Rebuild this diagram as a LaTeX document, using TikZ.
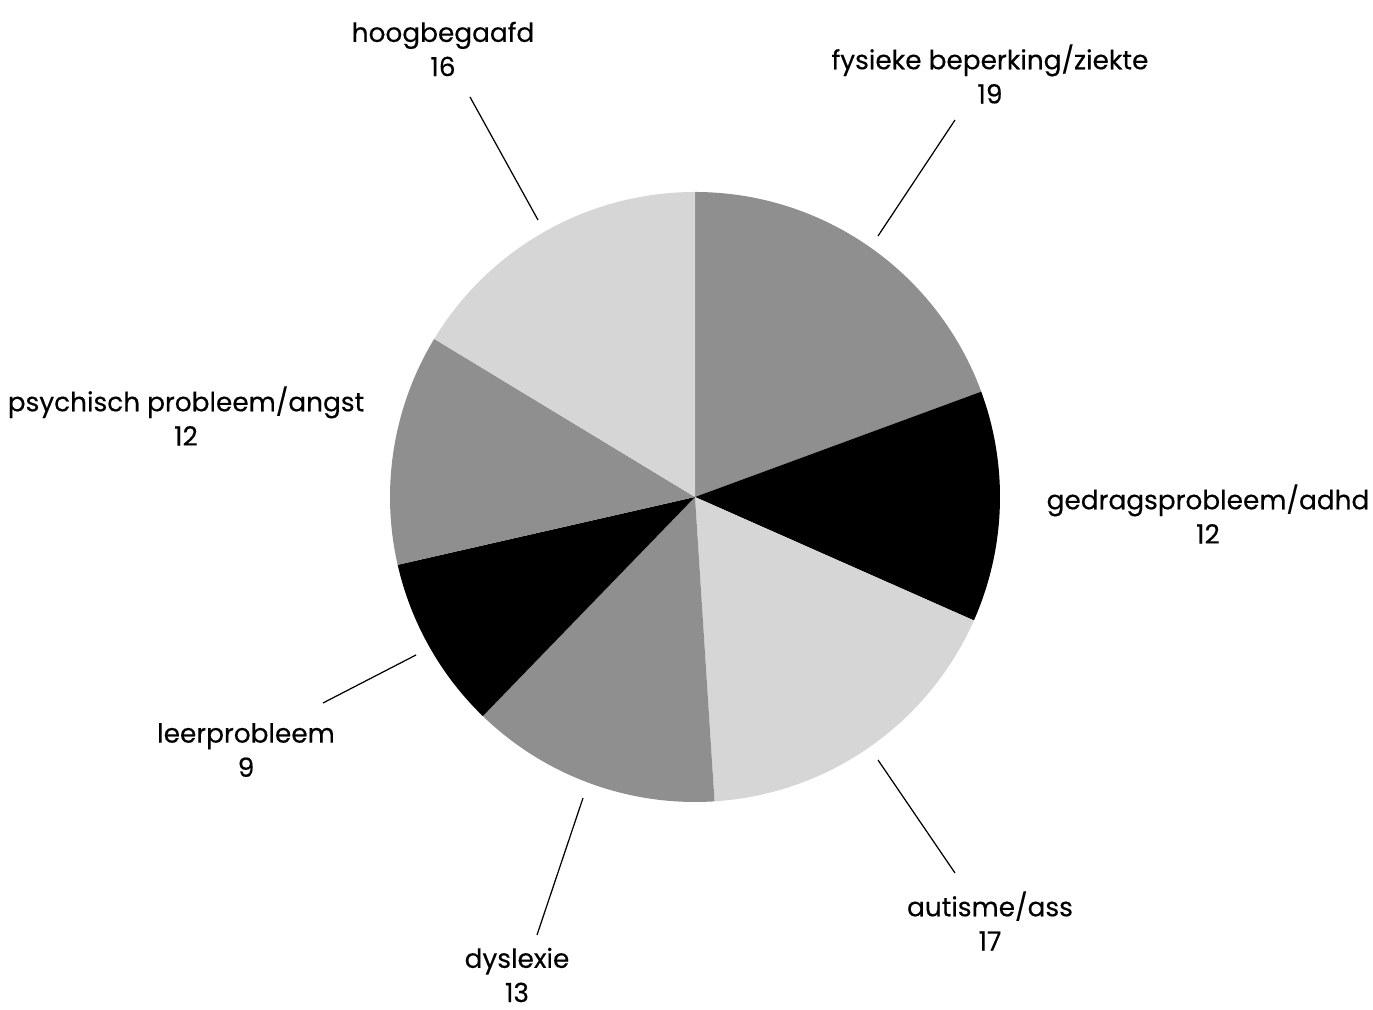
\documentclass[tikz,border=0pt]{standalone}
\usepackage{fontspec}
\setmainfont{Poppins}
\newfontfamily\labelfont{Poppins}[FakeBold=0.3]
\usetikzlibrary{positioning}
\definecolor{piegray}{RGB}{143,143,143}
\definecolor{pielight}{RGB}{214,214,214}
\tikzstyle{slicelabel}=[align=center,inner sep=0pt,font=\labelfont\fontsize{15}{19.5}\selectfont]
\tikzstyle{leader}=[draw,line width=0.7pt]
\begin{document}
\begin{tikzpicture}[x=0.02cm,y=0.02cm]
    \useasboundingbox (0,0) rectangle (1373,1010);
    % centre of the pie
    \coordinate (c) at (695,513);

    % slices, clockwise from the top: 19,12,17,13,9,12,16 of 98
    \foreach \from/\to/\col in {90/20.204/piegray, 20.204/-23.878/black, -23.878/-86.327/pielight, -86.327/-134.082/piegray, -134.082/-167.143/black, -167.143/-211.224/piegray, -211.224/-270/pielight}
        \fill[\col] (c) -- ++(\from:305) arc (\from:\to:305) -- cycle;

    % labels
    \foreach \name/\x/\y/\txt in {hoog/443/961/{hoogbegaafd\\16}, fysiek/990/936/{fysieke beperking/ziekte\\19}, gedrag/1208/496/{gedragsprobleem/adhd\\12}, autisme/990/89/{autisme/ass\\17}, dyslexie/517/35/{dyslexie\\13}, leer/246/260/{leerprobleem\\9}, psych/186/594/{psychisch probleem/angst\\12}}
        \node[slicelabel] (\name) at (\x,\y) {\txt};

    % leader lines
    \foreach \name/\ax/\ay/\bx/\by in {hoog/538/790/470/913, fysiek/878/774/955/890, autisme/878/250/955/137, dyslexie/583/212/537/75, leer/416/355/323/307}
    {
        \coordinate (\name in) at (\ax,\ay);
        \coordinate (\name out) at (\bx,\by);
        \path[leader] (\name in) -- (\name out);
    }
\end{tikzpicture}
\end{document}
